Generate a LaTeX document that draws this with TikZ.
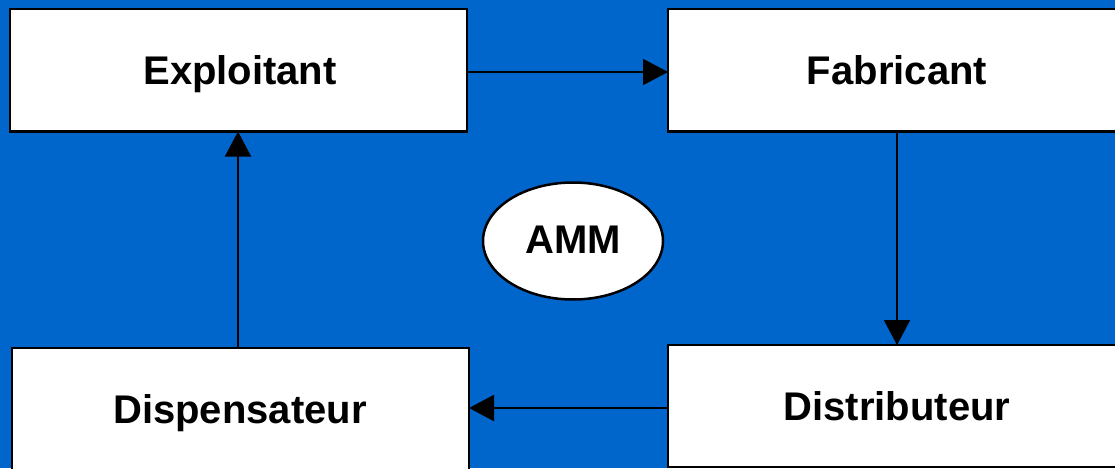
\documentclass[tikz,border=0pt]{standalone}
\usepackage{fontspec}
\setmainfont{Liberation Sans}
\usetikzlibrary{arrows.meta,shapes.geometric}
\definecolor{bgblue}{RGB}{0,102,204}
\begin{document}
\begin{tikzpicture}[x=1pt,y=-1pt,
  box/.style={draw=black,line width=2.5pt,fill=white,inner sep=0pt},
  lbl/.style={font=\fontsize{40}{44}\selectfont\bfseries,text=black},
  conn/.style={draw=black,line width=2pt,-{Triangle[length=25pt,width=26pt]}}]
\fill[bgblue] (0,0) rectangle (1115,468);
\useasboundingbox (0,0) rectangle (1115,468);
\begin{scope}
\clip (0,0) rectangle (1115,468);
\draw[box] (10,9) rectangle (467,131.5);
\draw[box] (668,9) rectangle (1130,131.5);
\draw[box] (12,348) rectangle (469,475);
\draw[box] (668,345) rectangle (1130,467);
\end{scope}
\node[lbl,anchor=base] (expl) at (240,85) {Exploitant};
\node[lbl,anchor=base] (fabr) at (897,85) {Fabricant};
\node[lbl,anchor=base] (disp) at (240,423) {Dispensateur};
\node[lbl,anchor=base] (dist) at (897,420) {Distributeur};
\coordinate (eR) at (467,72);
\coordinate (fL) at (668,72);
\coordinate (fB) at (897,131.5);
\coordinate (dT) at (897,345);
\coordinate (dL) at (668,408);
\coordinate (pR) at (469,408);
\coordinate (pT) at (238,348);
\coordinate (eB) at (238,131.5);
\node[draw=black,line width=2.5pt,fill=white,ellipse,minimum width=180pt,minimum height=117pt,inner sep=0pt] (amm) at (573,241) {};
\node[lbl,anchor=base] (ammtxt) at (573,253) {AMM};
\draw[conn] (eR) -- (fL);
\draw[conn] (fB) -- (dT);
\draw[conn] (dL) -- (pR);
\draw[conn] (pT) -- (eB);
\end{tikzpicture}
\end{document}
